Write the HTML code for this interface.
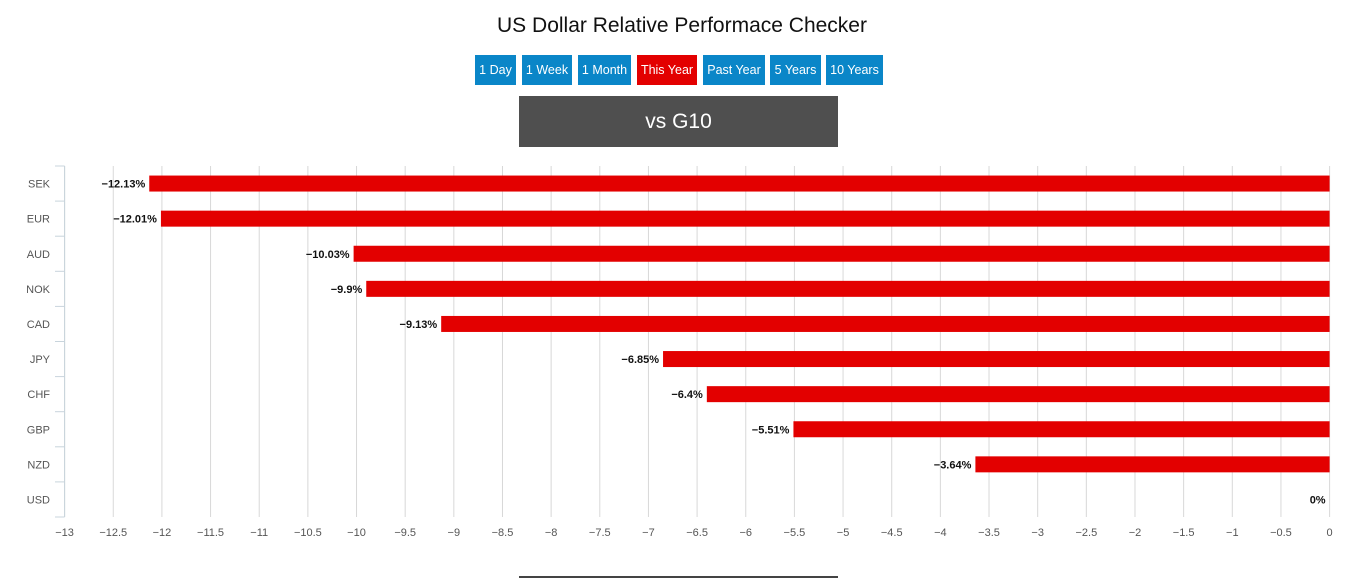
<!DOCTYPE html>
<html><head><meta charset="utf-8"><style>
body{margin:0;width:1364px;height:578px;background:#fff;position:relative;overflow:hidden;font-family:"Liberation Sans",sans-serif}
.t{position:absolute;left:0;width:1364px;top:14px;text-align:center;font-size:21px;color:#111}
.b{position:absolute;top:55px;height:30px;line-height:30px;text-align:center;color:#fff;background:#0a86c8;font-size:12.5px}
.r{background:#e30000}
.g{position:absolute;left:519px;top:96px;width:319px;height:51px;background:#4f4f4f;color:#fff;font-size:21px;text-align:center;line-height:51px}
.ln{position:absolute;left:519px;top:576px;width:319px;height:2px;background:#444}
svg{position:absolute;left:0;top:0}
</style></head><body>
<div class="t">US Dollar Relative Performace Checker</div>
<div class="b" style="left:475px;width:41px">1 Day</div>
<div class="b" style="left:522px;width:50px">1 Week</div>
<div class="b" style="left:578px;width:53px">1 Month</div>
<div class="b r" style="left:637px;width:60px">This Year</div>
<div class="b" style="left:703px;width:62px">Past Year</div>
<div class="b" style="left:770px;width:51px">5 Years</div>
<div class="b" style="left:826px;width:57px">10 Years</div>
<div class="g">vs G10</div>
<div class="ln"></div>
<svg id="c" width="1364" height="578"></svg>
<script>
const categories=["SEK","EUR","AUD","NOK","CAD","JPY","CHF","GBP","NZD","USD"];
const values=[-12.13,-12.01,-10.03,-9.9,-9.13,-6.85,-6.4,-5.51,-3.64,0];
const ticks=[-13,-12.5,-12,-11.5,-11,-10.5,-10,-9.5,-9,-8.5,-8,-7.5,-7,-6.5,-6,-5.5,-5,-4.5,-4,-3.5,-3,-2.5,-2,-1.5,-1,-0.5,0];
const NS="http://www.w3.org/2000/svg",svg=document.getElementById('c');
const X0=64.6,X1=1329.6,Y0=166,Y1=517;
const x=v=>X0+(v+13)/13*(X1-X0);
const band=(Y1-Y0)/categories.length;
const y=i=>Y0+band*(i+0.5);
function mk(t,a,txt){const e=document.createElementNS(NS,t);for(const k in a)e.setAttribute(k,a[k]);if(txt!=null)e.textContent=txt;svg.appendChild(e);return e;}
ticks.forEach(t=>{
 const g=mk('line',{x1:x(t),x2:x(t),y1:Y0,y2:Y1,stroke:'#d8d8d8','stroke-width':1});
 
 
 const l=mk('text',{x:x(t),y:536,'text-anchor':'middle','font-size':11,fill:'#555'},String(t).replace('-','\u2212'));
 
 
});
const ax=mk('line',{x1:X0,x2:X0,y1:Y0,y2:Y1,stroke:'#c8d4dc','stroke-width':1});


for(let i=0;i<=categories.length;i++){
 const tk=mk('line',{x1:55,x2:X0,y1:Y0+band*i,y2:Y0+band*i,stroke:'#c8d4dc','stroke-width':1});
 
 
}
categories.forEach((c,i)=>{
 const l=mk('text',{x:50,y:y(i)+4,'text-anchor':'end','font-size':11,fill:'#555'},c);
 
 
 const v=values[i];
 const b=mk('rect',{x:x(v),y:y(i)-8,width:x(0)-x(v),height:16,fill:'#e30000'});
 
 
 const vl=mk('text',{x:x(v)-4,y:y(i)+4,'text-anchor':'end','font-size':11,'font-weight':'bold',fill:'#111'},String(v).replace('-','\u2212')+'%');
 
 
});
</script>
</body></html>
